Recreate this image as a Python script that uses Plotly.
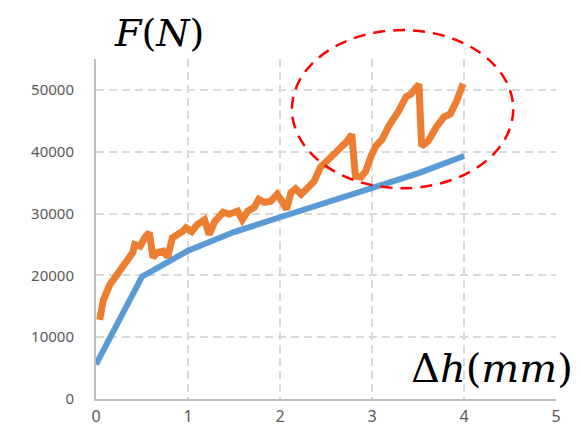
import plotly.graph_objects as go

# Blue series (smooth)
blue_x = [0.0, 0.5, 1.0, 1.5, 2.0, 2.5, 3.0, 3.5, 4.0]
blue_y = [5600, 19800, 24000, 27000, 29400, 31700, 34000, 36500, 39300]

# Orange series (serrated)
orange_x = [0.04, 0.08, 0.15, 0.22, 0.28, 0.35, 0.40, 0.42, 0.48, 0.53, 0.58, 0.62,
            0.67, 0.73, 0.78, 0.83, 0.89, 0.94, 0.98, 1.04, 1.10, 1.18, 1.23, 1.29,
            1.38, 1.45, 1.54, 1.59, 1.65, 1.72, 1.77, 1.83, 1.90, 1.97, 2.03, 2.07,
            2.12, 2.17, 2.23, 2.29, 2.37, 2.44, 2.51, 2.59, 2.66, 2.73, 2.78, 2.82,
            2.88, 2.93, 2.99, 3.04, 3.11, 3.18, 3.29, 3.37, 3.42, 3.51, 3.54, 3.61,
            3.70, 3.78, 3.85, 3.92, 3.99]
orange_y = [12800, 16000, 18500, 20100, 21300, 22600, 23700, 25000, 24700, 26100, 26900, 22900,
            23700, 23900, 23000, 26100, 26600, 27100, 27700, 27100, 28200, 29000, 26600, 28700,
            30200, 29900, 30400, 29000, 30400, 31000, 32300, 31800, 32000, 33100, 31800, 30700,
            33400, 34000, 33100, 33900, 35200, 37500, 38500, 39900, 40700, 41700, 42800, 36000,
            35900, 36800, 39300, 40900, 42000, 44100, 46600, 48900, 49300, 50900, 40900, 41700,
            44000, 45600, 46100, 48200, 51000]

x_ticks = [0, 1, 2, 3, 4, 5]
y_ticks = [0, 10000, 20000, 30000, 40000, 50000]
y_tick_labels = ["0", "10000", "20000", "30000", "40000", "50000"]

fig = go.Figure()
fig.add_trace(go.Scatter(x=blue_x, y=blue_y, mode="lines",
                         line=dict(color="#5B9BD5", width=6), showlegend=False))
fig.add_trace(go.Scatter(x=orange_x, y=orange_y, mode="lines",
                         line=dict(color="#ED7D31", width=7), showlegend=False))

fig.add_shape(type="circle", xref="paper", yref="paper",
              x0=0.426, x1=0.907, y0=0.62, y1=1.085,
              line=dict(color="#FF0000", width=2.5, dash="12px,8px"))

fig.add_annotation(xref="paper", yref="paper", x=0.137, y=1.076,
                   text="<i>F</i>(<i>N</i>)", showarrow=False,
                   font=dict(family="DejaVu Serif", size=38, color="#000000"),
                   xanchor="center", yanchor="middle")
fig.add_annotation(xref="paper", yref="paper", x=0.861, y=0.09,
                   text="Δ<i>h</i>(<i>mm</i>)", showarrow=False,
                   font=dict(family="DejaVu Serif", size=40, color="#000000"),
                   xanchor="center", yanchor="middle")

fig.update_xaxes(range=[0, 5], tickvals=x_ticks, showgrid=True, gridcolor="#D9D9D9",
                 griddash="8px,5px", gridwidth=1.5, showline=True, linecolor="#BFBFBF",
                 linewidth=2, zeroline=False, ticks="", ticklabelstandoff=2,
                 automargin=False,
                 tickfont=dict(family="Noto Sans", size=16, color="#595959"))
fig.update_yaxes(range=[0, 55000], tickvals=y_ticks, ticktext=y_tick_labels,
                 showgrid=True, gridcolor="#D9D9D9",
                 griddash="8px,5px", gridwidth=1.5, showline=True, linecolor="#BFBFBF",
                 linewidth=2, zeroline=False, ticks="", ticklabelstandoff=17,
                 automargin=False,
                 tickfont=dict(family="Noto Sans", size=15, color="#595959"))

fig.update_layout(width=581, height=438, margin=dict(l=96, r=25, t=59, b=39),
                  plot_bgcolor="white", paper_bgcolor="white")

fig.write_html("out.html", config={"displayModeBar": False},
               post_script="document.body.style.margin='0';document.body.style.overflow='hidden';")
